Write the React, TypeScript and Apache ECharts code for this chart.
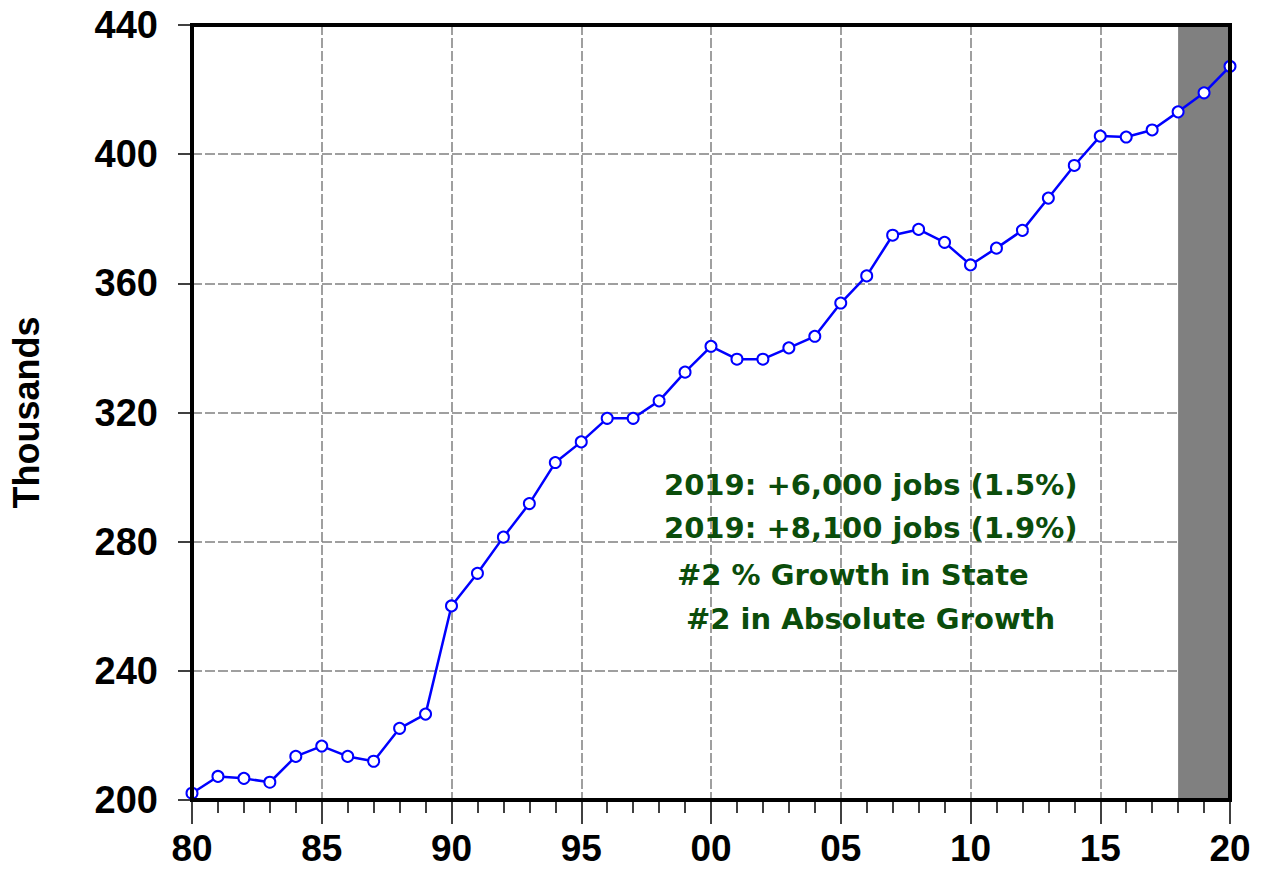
import React, { useEffect, useRef } from "react";
import * as echarts from "echarts";

const years: number[] = [
  1980, 1981, 1982, 1983, 1984, 1985, 1986, 1987, 1988, 1989,
  1990, 1991, 1992, 1993, 1994, 1995, 1996, 1997, 1998, 1999,
  2000, 2001, 2002, 2003, 2004, 2005, 2006, 2007, 2008, 2009,
  2010, 2011, 2012, 2013, 2014, 2015, 2016, 2017, 2018, 2019, 2020,
];
const jobs: number[] = [
  202.1, 207.3, 206.7, 205.5, 213.5, 216.7, 213.5, 212.0, 222.2, 226.6,
  260.1, 270.2, 281.4, 291.8, 304.5, 310.9, 318.2, 318.2, 323.6, 332.5,
  340.5, 336.5, 336.5, 340.0, 343.6, 353.9, 362.3, 374.9, 376.7, 372.7,
  365.7, 370.9, 376.4, 386.4, 396.5, 405.6, 405.3, 407.5, 413.1, 419.0, 427.2,
];
const forecastBand: [number, number] = [2018, 2020];
const annotations: string[] = [
  "2019: +6,000 jobs (1.5%)",
  "2019: +8,100 jobs (1.9%)",
  "#2 % Growth in State",
  "#2 in Absolute Growth",
];
const annotationX: number[] = [664, 664, 677, 686];
const annotationY: number[] = [487, 530, 577, 621];
const yAxisTitle = "Thousands";

const GRID = { left: 192, right: 32, top: 25, bottom: 71 };
const W = 1262;
const H = 871;

export default function App() {
  const ref = useRef<HTMLDivElement>(null);
  useEffect(() => {
    if (!ref.current) return;
    const chart = echarts.init(ref.current, undefined, { renderer: "svg" });
    const grid = "#808080";
    chart.setOption({
      animation: false,
      backgroundColor: "#ffffff",
      grid: {
        ...GRID,
        outerBoundsMode: "none",
        containLabel: false,
        show: false,
      },
      xAxis: {
        type: "value",
        min: 1980,
        max: 2020,
        interval: 5,
        axisLine: { show: true, onZero: false, lineStyle: { color: "#000", width: 4 } },
        axisTick: { show: true, inside: false, length: 24, lineStyle: { color: "#000", width: 1.5 } },
        minorTick: { show: true, splitNumber: 5, length: 13, lineStyle: { color: "#000", width: 1.5 } },
        splitLine: { show: true, lineStyle: { color: grid, width: 1.5, type: [10, 3] } },
        axisLabel: {
          margin: 30,
          fontFamily: "Liberation Sans",
          fontWeight: "bold",
          fontSize: 37,
          lineHeight: 37,
          color: "#000",
          formatter: (v: number) => String(v % 100).padStart(2, "0"),
        },
      },
      yAxis: {
        type: "value",
        min: 200,
        max: 440,
        interval: 40,
        name: yAxisTitle,
        nameLocation: "middle",
        nameGap: 148,
        nameTextStyle: {
          fontFamily: "Liberation Sans",
          fontWeight: "bold",
          fontSize: 36,
          color: "#000",
        },
        axisLine: { show: true, onZero: false, lineStyle: { color: "#000", width: 4 } },
        axisTick: { show: true, length: 14, lineStyle: { color: "#000", width: 1.5 } },
        splitLine: { show: true, lineStyle: { color: grid, width: 1.5, type: [10, 3] } },
        axisLabel: {
          margin: 34,
          fontFamily: "Liberation Sans",
          fontWeight: "bold",
          fontSize: 38,
          color: "#000",
        },
      },
      series: [
        {
          type: "line",
          data: years.map((y, i) => [y, jobs[i]]),
          lineStyle: { color: "#0000ff", width: 2.5 },
          itemStyle: { color: "#ffffff", borderColor: "#0000ff", borderWidth: 2 },
          symbol: "circle",
          symbolSize: 11,
          showSymbol: true,
          clip: false,
          z: 5,
          markArea: {
            silent: true,
            itemStyle: { color: "#808080", opacity: 1 },
            data: [[{ xAxis: forecastBand[0] }, { xAxis: forecastBand[1] }]],
          },
        },
      ],
      graphic: [
        {
          type: "rect",
          z: 20,
          silent: true,
          shape: {
            x: GRID.left,
            y: GRID.top,
            width: W - GRID.left - GRID.right,
            height: H - GRID.top - GRID.bottom,
          },
          style: { fill: "none", stroke: "#000", lineWidth: 4 },
        },
        ...annotations.map((t, i) => ({
          type: "text",
          left: annotationX[i],
          top: annotationY[i] - 17,
          z: 10,
          style: {
            text: t,
            fontFamily: "DejaVu Sans",
            fontWeight: "bold",
            fontSize: 29,
            fill: "#0b4d0b",
          },
        })),
      ],
    });
    return () => chart.dispose();
  }, []);
  return (
    <div
      ref={ref}
      style={{ position: "fixed", left: 0, top: 0, width: W, height: H }}
    />
  );
}
